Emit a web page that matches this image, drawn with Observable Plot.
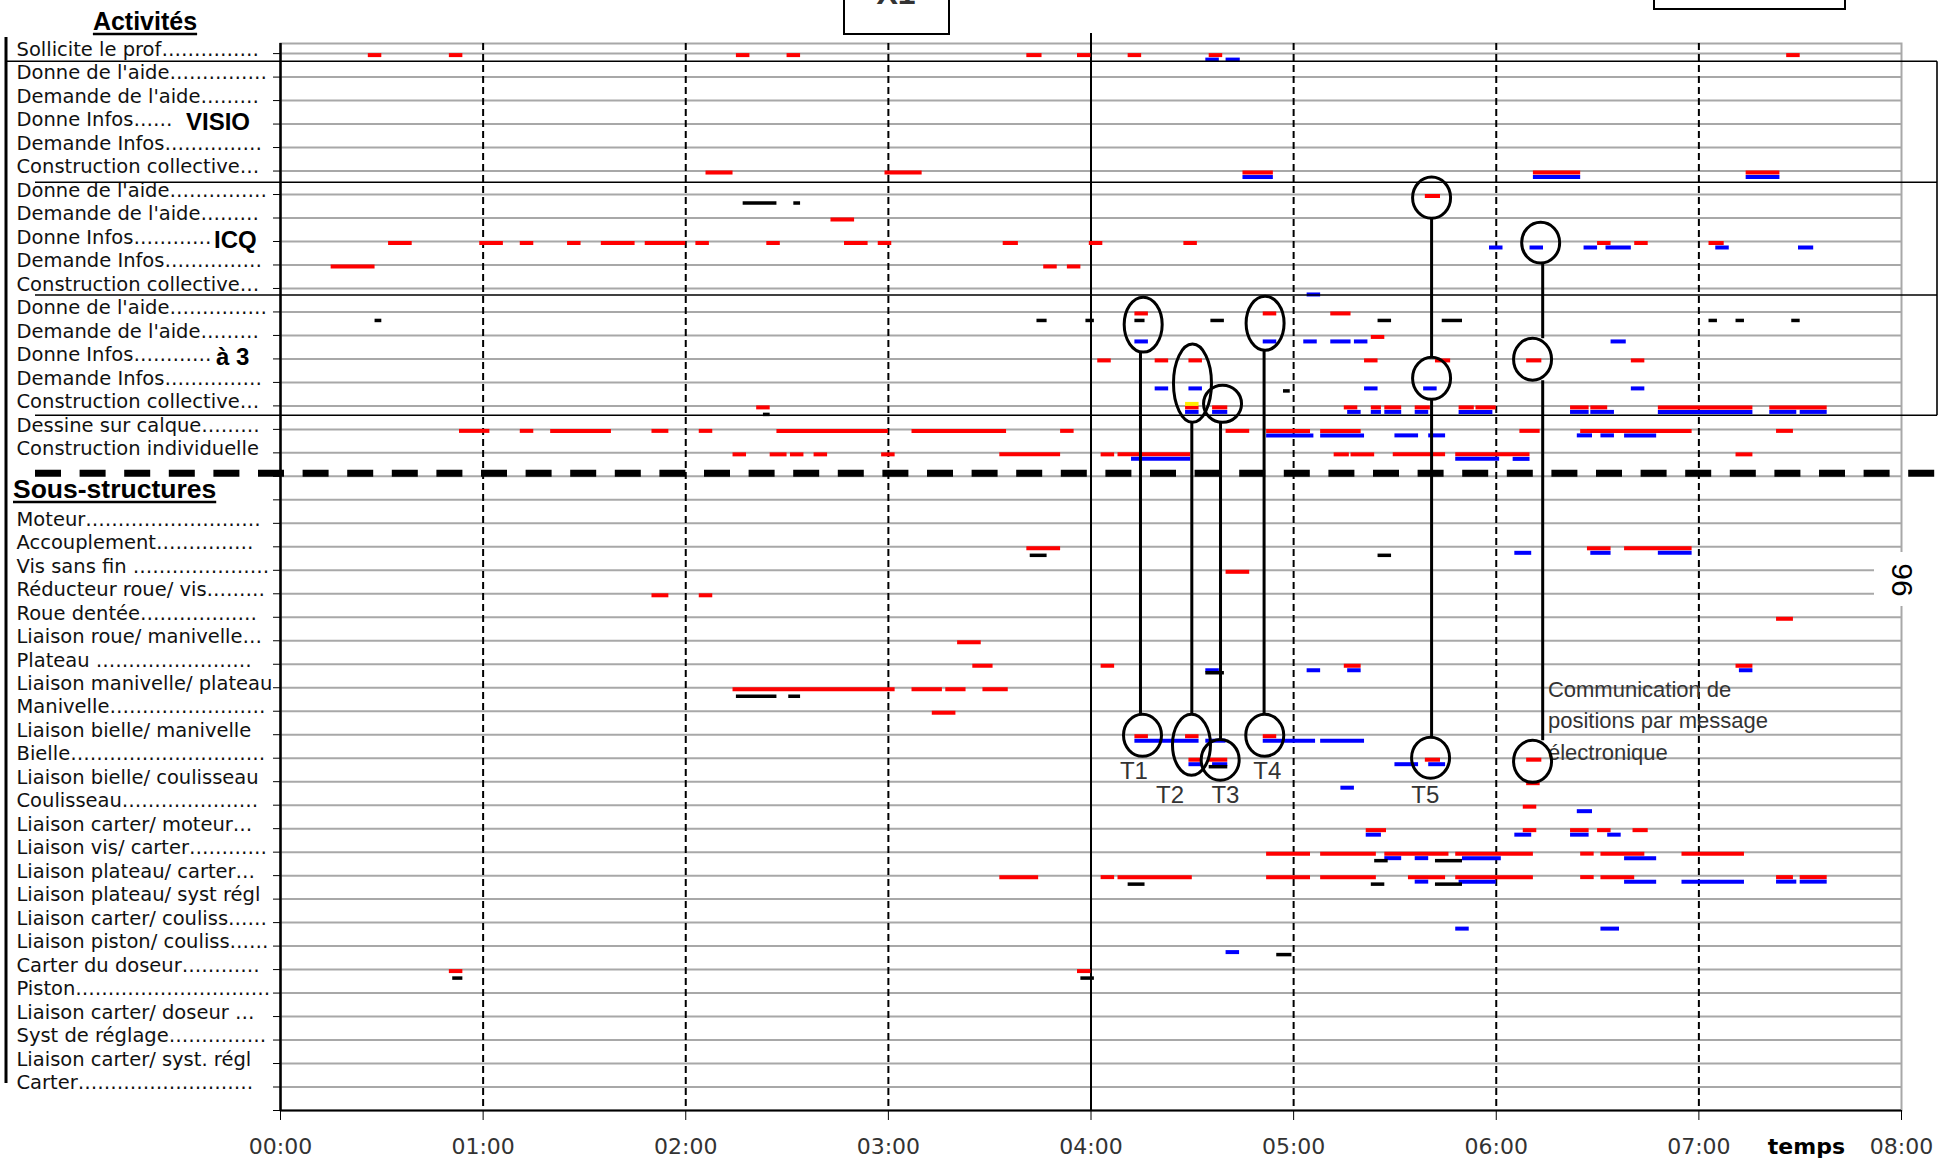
<!DOCTYPE html>
<html><head><meta charset="utf-8">
<script src="https://cdn.jsdelivr.net/npm/d3@7"></script>
<script src="https://cdn.jsdelivr.net/npm/@observablehq/plot@0.6"></script>
<style>
html,body{margin:0;padding:0;background:#fff;overflow:hidden}
#chart{position:relative;width:1939px;height:1162px}
</style></head>
<body><div id="chart"></div>
<script>
// ---------- data ----------
const hours = [0, 60, 120, 180, 240, 300, 360, 420, 480];
const hourLabels = ["00:00","01:00","02:00","03:00","04:00","05:00","06:00","07:00","08:00"];
const axisTitle = "temps";

const rowLabels = [
  "Sollicite le prof", "Donne de l'aide", "Demande de l'aide", "Donne Infos", "Demande Infos", "Construction collective",
  "Donne de l'aide", "Demande de l'aide", "Donne Infos", "Demande Infos", "Construction collective",
  "Donne de l'aide", "Demande de l'aide", "Donne Infos", "Demande Infos", "Construction collective",
  "Dessine sur calque", "Construction individuelle", "", "",
  "Moteur", "Accouplement", "Vis sans fin ", "Réducteur roue/ vis", "Roue dentée", "Liaison roue/ manivelle",
  "Plateau ", "Liaison manivelle/ plateau", "Manivelle", "Liaison bielle/ manivelle", "Bielle",
  "Liaison bielle/ coulisseau", "Coulisseau", "Liaison carter/ moteur", "Liaison vis/ carter",
  "Liaison plateau/ carter", "Liaison plateau/ syst régl", "Liaison carter/ couliss", "Liaison piston/ couliss",
  "Carter du doseur", "Piston", "Liaison carter/ doseur ", "Syst de réglage", "Liaison carter/ syst. régl", "Carter"
];
const headings = ["Activités", "Sous-structures"];
const groupNames = [["VISIO", 3], ["ICQ", 8], ["à 3", 13]];

// segments: [row, start minute, end minute]
const redSegments = [
 [0,26,30],[0,50,54],[0,135,139],[0,150,154],[0,221,225.5],[0,236,240],[0,251,255],[0,275,279],[0,446,450],
 [5,126,134],[5,179,190],[5,285,294],[5,371,385],[5,434,444],
 [6,339,343.5],[7,163,170],
 [8,32,39],[8,59,66],[8,71,75],[8,85,89],[8,95,105],[8,108,120],[8,123,127],[8,144,148],[8,167,174],[8,177,181],
 [8,214,218.5],[8,239.5,243.5],[8,267.5,271.5],[8,390,394],[8,401,405],[8,423,427.5],
 [9,15,28],[9,226,230],[9,233,237],
 [11,253,257],[11,291,295],[11,311,317],
 [12,323,327],
 [13,242,246],[13,259,263],[13,269,273],[13,321,325],[13,342,346.5],[13,369,373.5],[13,400,404],
 [15,141,145],[15,268,272],[15,276,280.5],[15,315,319],[15,323,326],[15,327,332],[15,336,340.5],[15,349,353.5],
 [15,354,360],[15,382,387.5],[15,388,393],[15,408,436],[15,441,458],
 [16,53,62],[16,71,75],[16,80,98],[16,110,115],[16,124,128],[16,147,180],[16,187,215],[16,231,235],[16,280,287],
 [16,292,305],[16,308,320],[16,367,373],[16,385,418],[16,443,448],
 [17,134,138],[17,145,150],[17,151,155],[17,158,162],[17,178,182],[17,213,231],[17,243,247],[17,248,269.5],
 [17,312,316.5],[17,317,324],[17,329.5,345],[17,348,370],[17,431,436],
 [21,221,231],[21,387,394],[21,398,418],
 [22,280,287],
 [23,110,115],[23,124,128],
 [24,443,448],
 [25,200.5,207.5],
 [26,205,211],[26,243,247],[26,315,320],[26,431,436],
 [27,134,182],[27,187,196],[27,197,203],[27,208,215.5],
 [28,193,200],
 [29,253,257],[29,268,272],[29,291,295],
 [30,269,273],[30,275,280.5],[30,339,343.5],[30,369,373.5],
 [31,369,373],
 [32,368,372],
 [33,321.5,327.5],[33,368,372],[33,382,387.5],[33,390,394],[33,400.5,405],
 [34,292,305],[34,308,324.5],[34,327,346],[34,348,371],[34,385,389],[34,391,404],[34,415,433.5],
 [35,213,224.5],[35,243,247],[35,248,270],[35,292,305],[35,308,324.5],[35,334,345],[35,348,371],[35,385,389],
 [35,391,401],[35,443,448],[35,450,458],
 [39,50,54],[39,236,240]
];
const blueSegments = [
 [0,274,278],[0,280,284.2],
 [5,285,294],[5,371,385],[5,434,444],
 [8,358,362],[8,370,374],[8,386,390],[8,392.5,400],[8,425,429],[8,449.5,454],
 [10,304,308],
 [12,253,257],[12,291,295],[12,303,307],[12,311,317],[12,318,322],[12,394,398.5],
 [14,259,263],[14,269,273],[14,321,325],[14,338.5,342.5],[14,400,404],
 [15,268,272],[15,276,280.5],[15,316,320],[15,323,326],[15,327,332],[15,336,340],[15,349,359],[15,382,387.5],
 [15,388,395],[15,408,436],[15,441,449],[15,450,458],
 [16,292,306],[16,308,321],[16,330,337],[16,340,345],[16,384,388.5],[16,391,395],[16,398,407.5],
 [17,252,269.5],[17,348,361],[17,365,370],
 [21,365.5,370.5],[21,388,394],[21,408,418],
 [26,274,278],[26,304,308],[26,316,320],[26,432,436],
 [29,253,272],[29,274,280],[29,291,306.5],[29,308,321],
 [30,269,273],[30,276,280.5],[30,330,337],[30,340,345],
 [31,314,318],
 [32,384,388.5],
 [33,321.5,326],[33,365.5,370.5],[33,382,387.5],[33,393,397],
 [34,327,332],[34,336,340],[34,350,361.5],[34,398,407.5],
 [35,336,340],[35,349,360],[35,398,407.5],[35,415,433.5],[35,443,449],[35,450,458],
 [37,348,352],[37,391,396.5],
 [38,280,284]
];
const blackSegments = [
 [6,137,147],[6,152,154],
 [11,28,30],[11,224,227],[11,238.5,241],[11,253,256],[11,275.5,279.5],[11,325,329],[11,344,350],[11,423,425.5],
 [11,431,433.5],[11,447.5,450],
 [14,297,299],
 [15,143,145],
 [21,222,227],[21,325,329],
 [26,274,279.5],
 [27,135,147],[27,150.5,154],
 [30,275,280.5],
 [34,324,328],[34,342,350],
 [35,251,256],[35,323,327],[35,342,350],
 [38,295,299.5],
 [39,51,54],[39,237,241]
];
const yellowSegments = [[15,268,272]];

// annotation groups: line time, ellipses [time, row from, row to], label [text, time, row]
const markers = [
 {line: 254.8, ellipses: [[255.6,10.39,12.73],[255.4,28.15,29.94]], label: ["T1",252.7,30.54]},
 {line: 270.0, ellipses: [[270.2,12.39,15.72],[269.9,28.15,30.75]], label: ["T2",263.4,31.6]},
 {line: 278.5, ellipses: [[279.1,14.14,15.72],[278.4,29.22,30.96]], label: ["T3",279.8,31.6]},
 {line: 291.4, ellipses: [[291.7,10.35,12.65],[291.6,28.15,29.94]], label: ["T4",292.2,30.54]},
 {line: 341.0, ellipses: [[341,5.28,7.03],[341,12.95,14.74],[340.7,29.13,30.88]], label: ["T5",339,31.6]},
 {line: 373.9, ellipses: [[373.3,7.2,8.94],[370.9,12.14,13.93],[370.9,29.26,31.05]], label: null}
];
const note = {text: "Communication de\npositions par message\nélectronique", t: 375.3, row: 28.29};
const boxBounds = [0.35, 5.5, 10.3, 15.42];
const separatorRow = 17.89;
const topBoxText = "X1";
const pageNumber = "96";

// ---------- helpers ----------
const labelFont = "DejaVu Sans", labelSize = 19.5;
const groupLeft = {"VISIO": 186, "ICQ": 214, "à 3": 216};
const seg = arr => arr.map(([row, start, end]) => ({row, start, end}));
const ctx = document.createElement("canvas").getContext("2d");
ctx.font = `${labelSize}px '${labelFont}'`;
function leader(label, limit) {
  if (!label) return label;
  let s = label;
  while (ctx.measureText(s + "…").width <= limit) s += "…";
  return s;
}
const groupRowLimit = new Map(groupNames.map(([name, row]) => [row, groupLeft[name] - 18]));
const labelRows = rowLabels.map((label, row) => ({row, label: leader(label, groupRowLimit.get(row) ?? 254)})).filter(d => d.label);
const tLabels = markers.filter(m => m.label).map(m => ({text: m.label[0], t: m.label[1], row: m.label[2]}));

const plot = Plot.plot({
  width: 1939, height: 1162,
  marginLeft: 280, marginRight: 38, marginTop: 43, marginBottom: 52,
  x: {domain: [0, 480]},
  y: {domain: [-0.43, 45], reverse: true},
  style: {fontFamily: "'DejaVu Sans'", fontSize: "22px", color: "#333", background: "white", overflow: "visible"},
  marks: [
    Plot.ruleY(d3.range(0, 45), {y: d => d, stroke: "#a8a8a8", strokeWidth: 2}),
    Plot.frame({stroke: "#a8a8a8", strokeWidth: 2}),
    Plot.ruleX(hours.filter(h => h > 0 && h < 480 && h !== 240), {x: d => d, stroke: "black", strokeWidth: 2, strokeDasharray: "7,4"}),
    Plot.ruleX([240], {x: d => d, stroke: "black", strokeWidth: 2, insetTop: -10}),
    Plot.ruleX([0], {x: d => d, stroke: "black", strokeWidth: 2.5}),
    Plot.ruleY([45], {y: d => d, stroke: "black", strokeWidth: 2}),
    Plot.axisY({ticks: d3.range(0, 46), tickSize: 7, tickFormat: () => "", label: null, stroke: "black"}),
    Plot.axisX({ticks: hours, tickFormat: d => hourLabels[hours.indexOf(d)], tickSize: 10, tickPadding: 18, label: null, stroke: "black", fontSize: 22}),
    Plot.text(labelRows, {y: "row", text: "label", frameAnchor: "left", textAnchor: "start", dx: -264, dy: -4,
      fontSize: labelSize, fontFamily: labelFont, fill: "#111"}),
    Plot.ruleY(seg(redSegments), {y: "row", x1: "start", x2: "end", stroke: "#ff0000", strokeWidth: 4, dy: 1.5}),
    Plot.ruleY(seg(blueSegments), {y: "row", x1: "start", x2: "end", stroke: "#0000ff", strokeWidth: 4, dy: 6}),
    Plot.ruleY(seg(blackSegments), {y: "row", x1: "start", x2: "end", stroke: "#000000", strokeWidth: 3.5, dy: 8.5}),
    Plot.ruleY(seg(yellowSegments), {y: "row", x1: "start", x2: "end", stroke: "#ffee00", strokeWidth: 4, dy: -2}),
    Plot.text(tLabels, {x: "t", y: "row", text: "text", fontSize: 24, fontFamily: "Liberation Sans", fill: "#333"}),
    Plot.text([note], {x: "t", y: "row", text: "text", textAnchor: "start", lineHeight: 1.43, fontSize: 22,
      fontFamily: "Liberation Sans", fill: "#333"})
  ]
});
document.getElementById("chart").appendChild(plot);

// ---------- decorations placed with the plot's scales ----------
const sx = plot.scale("x"), sy = plot.scale("y");
const fx = sx.apply ? v => sx.apply(v) : d3.scaleLinear(sx.domain, sx.range);
const fy = sy.apply ? v => sy.apply(v) : d3.scaleLinear(sy.domain, sy.range);
const svg = d3.select(plot);
const g = svg.append("g");

// left bracket line
g.append("line").attr("x1", 6).attr("x2", 6).attr("y1", 37).attr("y2", 1083).attr("stroke", "black").attr("stroke-width", 3);
// group box lines
boxBounds.forEach((b, i) => {
  g.append("line").attr("x1", i === 0 ? 6 : 35).attr("x2", 1937).attr("y1", fy(b)).attr("y2", fy(b))
    .attr("stroke", "black").attr("stroke-width", 1.6);
});
g.append("line").attr("x1", 1937).attr("x2", 1937).attr("y1", fy(boxBounds[0])).attr("y2", fy(boxBounds[3]))
  .attr("stroke", "black").attr("stroke-width", 1.6);
// dashed separator
g.append("line").attr("x1", 35).attr("x2", 1939).attr("y1", fy(separatorRow)).attr("y2", fy(separatorRow))
  .attr("stroke", "black").attr("stroke-width", 7).attr("stroke-dasharray", "26,18.6");

// headings
function heading(text, x, y, anchor, size) {
  const t = g.append("text").attr("x", x).attr("y", y).attr("text-anchor", anchor)
    .attr("font-family", "Liberation Sans").attr("font-weight", "bold").attr("font-size", size).attr("fill", "black").text(text);
  const bb = t.node().getBBox();
  g.append("line").attr("x1", bb.x).attr("x2", bb.x + bb.width).attr("y1", y + 4).attr("y2", y + 4)
    .attr("stroke", "black").attr("stroke-width", 2.5);
}
heading(headings[0], 145, 30, "middle", 25);
heading(headings[1], 13, 498, "start", 26.5);

// group names
groupNames.forEach(([name, row]) => {
  g.append("text").attr("x", groupLeft[name]).attr("y", fy(row) - 1.5).attr("dy", "0.35em").attr("text-anchor", "start")
    .attr("font-family", "Liberation Sans").attr("font-weight", "bold").attr("font-size", 24).attr("fill", "black").text(name);
});

// top boxes
g.append("rect").attr("x", 844).attr("y", -3).attr("width", 105).attr("height", 37).attr("fill", "white").attr("stroke", "black").attr("stroke-width", 2);
g.append("text").attr("x", 896).attr("y", 4).attr("text-anchor", "middle").attr("font-family", "Liberation Sans")
  .attr("font-weight", "bold").attr("font-size", 32).text(topBoxText);
g.append("rect").attr("x", 1654).attr("y", -3).attr("width", 191).attr("height", 12).attr("fill", "white").attr("stroke", "black").attr("stroke-width", 2);

// page number
g.append("rect").attr("x", 1874).attr("y", 552).attr("width", 65).attr("height", 54).attr("fill", "white");
g.append("text").attr("transform", "translate(1902,580) rotate(90)").attr("text-anchor", "middle").attr("dy", "0.35em")
  .attr("font-family", "Liberation Sans").attr("font-size", 30).attr("fill", "black").text(pageNumber);

// axis title
g.append("text").attr("x", fx(452)).attr("y", 1146).attr("dy", "0.35em").attr("text-anchor", "middle")
  .attr("font-family", "DejaVu Sans").attr("font-weight", "bold").attr("font-size", 22).attr("fill", "black").text(axisTitle);

// ellipse markers and connectors
markers.forEach(m => {
  const es = m.ellipses.map(([t, r0, r1]) => ({cx: fx(t), top: fy(r0), bottom: fy(r1)}));
  for (let i = 0; i + 1 < es.length; i++) {
    g.append("line").attr("x1", fx(m.line)).attr("x2", fx(m.line)).attr("y1", es[i].bottom).attr("y2", es[i + 1].top)
      .attr("stroke", "black").attr("stroke-width", 3);
  }
  es.forEach(e => {
    g.append("ellipse").attr("cx", e.cx).attr("cy", (e.top + e.bottom) / 2).attr("rx", 19).attr("ry", (e.bottom - e.top) / 2)
      .attr("fill", "none").attr("stroke", "black").attr("stroke-width", 3);
  });
});
</script></body></html>
